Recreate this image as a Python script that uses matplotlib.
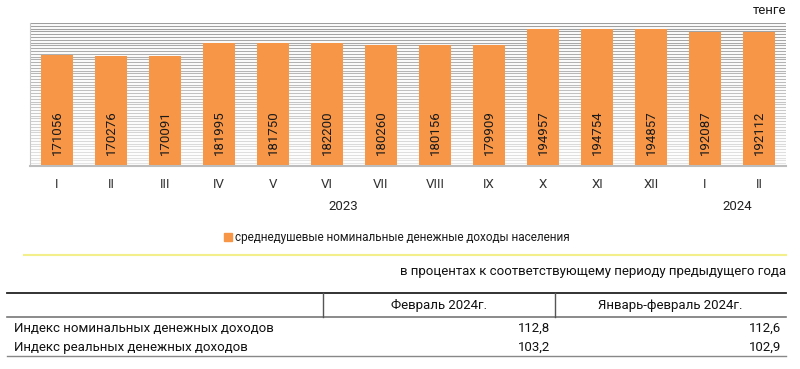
import numpy as np
import matplotlib.pyplot as plt
from matplotlib.lines import Line2D

plt.rcParams["font.family"] = ["Roboto", "DejaVu Sans"]

months = ["I", "II", "III", "IV", "V", "VI", "VII", "VIII", "IX", "X", "XI", "XII", "I", "II"]
income = [171056, 170276, 170091, 181995, 181750, 182200, 180260, 180156, 179909,
          194957, 194754, 194857, 192087, 192112]
years = ["2023", "2024"]
year_pos = [5.3, 12.6]

legend_label = "среднедушевые номинальные денежные доходы населения"
unit_label = "тенге"
table_note = "в процентах к соответствующему периоду предыдущего года"
col_headers = ["Февраль 2024г.", "Январь-февраль 2024г."]
row_names = ["Индекс номинальных денежных доходов", "Индекс реальных денежных доходов"]
feb_vals = ["112,8", "103,2"]
janfeb_vals = ["112,6", "102,9"]

W, H = 800, 369
BAR = "#F79646"


def fx(x):
    return x / W


def fy(y):
    return 1 - y / H


def hline(fig, x0, x1, y, color, lw):
    fig.add_artist(Line2D([fx(x0), fx(x1)], [fy(y), fy(y)], color=color, lw=lw,
                          transform=fig.transFigure))


def vline(fig, x, y0, y1, color, lw):
    fig.add_artist(Line2D([fx(x), fx(x)], [fy(y0), fy(y1)], color=color, lw=lw,
                          transform=fig.transFigure))


def main():
    fig = plt.figure(figsize=(8, 3.69), dpi=100)
    ax = fig.add_axes([fx(30), fy(166), fx(786) - fx(30), fy(23) - fy(166)])

    # striped background, darker at the top
    n = 52
    ys = np.linspace(0, 1, n)
    for yv in ys:
        g = 0.62 + 0.28 * (1 - yv)
        ax.hlines(yv, 0, 1, transform=ax.transAxes, color=(g, g, g), lw=0.8, zorder=0)

    x = np.arange(len(income))
    ax.bar(x, income, width=0.59, color=BAR, zorder=2)
    ax.set_xlim(-0.5, len(income) - 0.5)
    ax.set_ylim(72000, 200000)

    for xi, v in zip(x, income):
        ax.annotate(str(v), (xi, 72000), xytext=(0, 8), textcoords="offset points",
                    rotation=90, ha="center", va="bottom", fontsize=9.5, color="#1a1a1a",
                    zorder=3)

    ax.set_yticks([])
    ax.set_xticks(x)
    ax.set_xticklabels(months, fontsize=9.5, color="#333333")
    ax.tick_params(axis="x", length=0, pad=9)
    for s in ["top", "right"]:
        ax.spines[s].set_visible(False)
    ax.spines["left"].set_color("#c8c8c8")
    ax.spines["left"].set_linewidth(0.8)
    ax.spines["bottom"].set_color("#bdbdbd")
    ax.spines["bottom"].set_linewidth(1.5)

    for yp, yl in zip(year_pos, years):
        ax.text(yp, -0.28, yl, transform=ax.get_xaxis_transform(), ha="center",
                va="center", fontsize=9.5, color="#222222")

    fig.text(fx(786), fy(10), unit_label, ha="right", va="center", fontsize=9.5, color="#1a1a1a")

    # legend
    fig.patches.append(plt.Rectangle((fx(224), fy(241)), fx(8), 8 / H, color=BAR,
                                     transform=fig.transFigure))
    fig.text(fx(235), fy(237), legend_label, ha="left", va="center", fontsize=8.5,
             color="#1a1a1a")

    hline(fig, 24, 786, 255, "#f3ef8a", 1.5)

    fig.text(fx(786), fy(271), table_note, ha="right", va="center", fontsize=9.5,
             color="#111111")

    # table
    hline(fig, 7, 786, 293, "#222222", 1.3)
    hline(fig, 7, 786, 317, "#777777", 1.2)
    hline(fig, 7, 786, 356, "#888888", 1.0)
    vline(fig, 323, 293, 317, "#555555", 1.0)
    vline(fig, 555, 293, 317, "#555555", 1.0)

    fig.text(fx(439), fy(305), col_headers[0], ha="center", va="center", fontsize=9.5,
             color="#111111")
    fig.text(fx(670), fy(305), col_headers[1], ha="center", va="center", fontsize=9.5,
             color="#111111")
    for i, yrow in enumerate([328, 347]):
        fig.text(fx(14), fy(yrow), row_names[i], ha="left", va="center", fontsize=9.5,
                 color="#111111")
        fig.text(fx(550), fy(yrow), feb_vals[i], ha="right", va="center", fontsize=9.5,
                 color="#111111")
        fig.text(fx(781), fy(yrow), janfeb_vals[i], ha="right", va="center", fontsize=9.5,
                 color="#111111")

    fig.savefig("out.png", dpi=100)


if __name__ == "__main__":
    main()
